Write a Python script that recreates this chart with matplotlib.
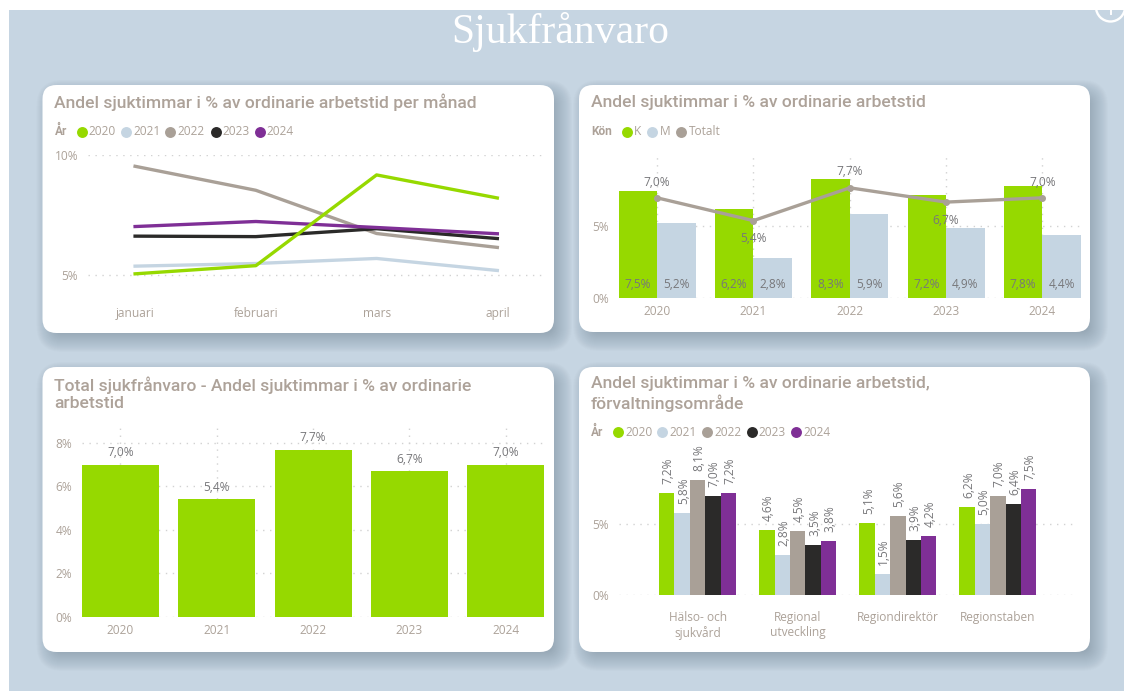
import matplotlib
matplotlib.use('Agg')
import matplotlib.pyplot as plt
from matplotlib.patches import FancyBboxPatch, Rectangle, Circle

W, H = 1124, 691

# data
months = ['januari', 'februari', 'mars', 'april']
years = ['2020', '2021', '2022', '2023', '2024']
month_2020 = [5.05, 5.39, 9.17, 8.21]
month_2021 = [5.37, 5.48, 5.69, 5.19]
month_2022 = [9.53, 8.53, 6.73, 6.15]
month_2023 = [6.62, 6.60, 6.93, 6.52]
month_2024 = [7.02, 7.23, 6.98, 6.72]

kon_k = [7.5, 6.2, 8.3, 7.2, 7.8]
kon_m = [5.2, 2.8, 5.9, 4.9, 4.4]
totalt = [7.0, 5.4, 7.7, 6.7, 7.0]

omraden = ['Hälso- och\nsjukvård', 'Regional\nutveckling', 'Regiondirektör', 'Regionstaben']
omr_2020 = [7.2, 4.6, 5.1, 6.2]
omr_2021 = [5.8, 2.8, 1.5, 5.0]
omr_2022 = [8.1, 4.5, 5.6, 7.0]
omr_2023 = [7.0, 3.5, 3.9, 6.4]
omr_2024 = [7.2, 3.8, 4.2, 7.5]

GREEN = '#96D900'
LIGHT = '#C5D5E2'
GRAY = '#A9A097'
BLACK = '#2B2A29'
PURPLE = '#7F2F96'
year_colors = [GREEN, LIGHT, GRAY, BLACK, PURPLE]
BG = '#C6D5E2'
TITLE_C = '#ADA299'
TICK_C = '#ACA299'
LABEL_C = '#77777A'
GRID_C = '#D2D2D2'
SANS = 'Open Sans'
HEAD = 'Roboto'


def pct(v):
    return ('%.1f%%' % v).replace('.', ',')


fig = plt.figure(figsize=(W / 100, H / 100), dpi=100, facecolor='white')
bg = fig.add_axes([0, 0, 1, 1])
bg.set_xlim(0, W)
bg.set_ylim(H, 0)
bg.axis('off')
bg.add_patch(Rectangle((9, 10), W - 9, H - 10, color=BG, lw=0))

# the ring in the upper corner, cut off by the panel edge
clip = Rectangle((9, 10), W - 9, H - 10, transform=bg.transData)
ring = Circle((1110.5, 7), 14.5, fc='none', ec='white', lw=1.7)
bg.add_patch(ring)
ring.set_clip_path(clip)
bg.plot([1110.5, 1110.5], [10, 13.5], color='white', lw=1.4)


def card(x0, y0, x1, y1):
    r = 14
    for i in range(20):
        grow = 13 - i
        rr = max(r + grow - 1, 1)
        bg.add_patch(FancyBboxPatch((x0 + r + 6, y0 + r + 7), x1 - x0 - 2 * r, y1 - y0 - 2 * r,
                                    boxstyle='round,pad=%f,rounding_size=%f' % (rr, rr),
                                    fc='#4F6374', ec='none', alpha=0.021))
    bg.add_patch(FancyBboxPatch((x0 + r, y0 + r), x1 - x0 - 2 * r, y1 - y0 - 2 * r,
                                boxstyle='round,pad=%f,rounding_size=%f' % (r, r),
                                fc='white', ec='none'))


def plot_axes(x0, y0, x1, y1):
    ax = fig.add_axes([x0 / W, 1 - y1 / H, (x1 - x0) / W, (y1 - y0) / H])
    ax.patch.set_alpha(0)
    for s in ax.spines.values():
        s.set_visible(False)
    ax.tick_params(length=0)
    ax.set_axisbelow(True)
    return ax


def style_ticks(ax):
    for lab in ax.get_xticklabels() + ax.get_yticklabels():
        lab.set_family(SANS)
        lab.set_color(TICK_C)
        lab.set_fontsize(8.6)


def head(x, y, s):
    bg.text(x, y, s, fontsize=12.6, color=TITLE_C, family=HEAD, weight='medium',
            va='center', ha='left', linespacing=1.2)


def legend(y, name, xname, dots, texts, labels, colors):
    bg.text(xname, y, name, fontsize=8.6, color=TITLE_C, family=HEAD, weight='bold', va='center')
    for dx, tx, lab, c in zip(dots, texts, labels, colors):
        bg.scatter([dx], [y], s=62, color=c, lw=0, zorder=3)
        bg.text(tx, y, lab, fontsize=8.6, color=TICK_C, family=SANS, va='center')


card(42.5, 85, 554, 333)
card(579, 85, 1090, 332)
card(42.5, 367, 554, 652)
card(579, 367, 1090, 652)

bg.text(560, 32, 'Sjukfrånvaro', fontsize=30, color='white', family='Liberation Serif',
        ha='center', va='center')

grid_ls = (0, (1, 4))

# per month lines
head(54.5, 102, 'Andel sjuktimmar i % av ordinarie arbetstid per månad')
legend(131.7, 'År', 54.5, [81.8, 125.5, 170, 215.6, 260], [88.4, 133, 177.5, 222, 266.5], years, year_colors)
ax1 = plot_axes(88, 155, 542, 300)
x = list(range(len(months)))
for vals, c in zip([month_2022, month_2021, month_2023, month_2024, month_2020], [GRAY, LIGHT, BLACK, PURPLE, GREEN]):
    ax1.plot(x, vals, color=c, lw=2.4, solid_joinstyle='round')
ax1.set_xlim(-0.39, 3.37)
ax1.set_ylim(3.96, 10)
ax1.set_yticks([5, 10])
ax1.set_yticklabels(['5%', '10%'])
ax1.set_xticks(x)
ax1.set_xticklabels(months)
ax1.tick_params(axis='x', pad=5)
ax1.tick_params(axis='y', pad=7)
ax1.grid(axis='y', color=GRID_C, lw=1, ls=grid_ls)
style_ticks(ax1)

# K / M bars with total line
head(591, 102, 'Andel sjuktimmar i % av ordinarie arbetstid')
legend(131.7, 'Kön', 591, [627.4, 652.3, 680.9], [633.8, 659.5, 688.7], ['K', 'M', 'Totalt'], [GREEN, LIGHT, GRAY])
ax2 = plot_axes(618.5, 155, 1081, 297.7)
x = list(range(len(years)))
bars_k = ax2.bar([i - 0.2 for i in x], kon_k, 0.4, color=GREEN)
bars_m = ax2.bar([i + 0.2 for i in x], kon_m, 0.4, color=LIGHT)
for bars, vals in ((bars_k, kon_k), (bars_m, kon_m)):
    for b, v in zip(bars, vals):
        ax2.annotate(pct(v), (b.get_x() + b.get_width() / 2, 0), xytext=(0, 9.7), textcoords='offset points',
                     ha='center', va='center', fontsize=8.6, color=LABEL_C, family=SANS)
ax2.plot(x, totalt, color=GRAY, lw=2.4, marker='o', ms=4)
offs = [11, -13, 11.5, -13.5, 11]
for i, v in enumerate(totalt):
    ax2.annotate(pct(v), (i, v), xytext=(0, offs[i]), textcoords='offset points',
                 ha='center', va='center', fontsize=8.6, color=LABEL_C, family=SANS)
ax2.set_xlim(-0.4, 4.4)
ax2.set_ylim(0, 10)
ax2.set_yticks([0, 5])
ax2.set_yticklabels(['0%', '5%'])
ax2.set_xticks(x)
ax2.set_xticklabels(years)
ax2.tick_params(axis='x', pad=5.4)
ax2.tick_params(axis='y', pad=7)
ax2.grid(True, color=GRID_C, lw=1, ls=grid_ls)
style_ticks(ax2)

# total per year
head(54.5, 394, 'Total sjukfrånvaro - Andel sjuktimmar i % av ordinarie\narbetstid')
ax3 = plot_axes(81.8, 425, 544.4, 616.7)
bars = ax3.bar(x, totalt, 0.8, color=GREEN)
for b, v in zip(bars, totalt):
    ax3.annotate(pct(v), (b.get_x() + b.get_width() / 2, v), xytext=(0, 8.7), textcoords='offset points',
                 ha='center', va='center', fontsize=8.6, color=LABEL_C, family=SANS)
ax3.set_xlim(-0.4, 4.4)
ax3.set_ylim(0, 8.83)
ax3.set_yticks([0, 2, 4, 6, 8])
ax3.set_yticklabels(['0%', '2%', '4%', '6%', '8%'])
ax3.set_xticks(x)
ax3.set_xticklabels(years)
ax3.tick_params(axis='x', pad=5.4)
ax3.tick_params(axis='y', pad=7)
ax3.grid(True, color=GRID_C, lw=1, ls=grid_ls)
style_ticks(ax3)

# per area
head(591, 394, 'Andel sjuktimmar i % av ordinarie arbetstid,\nförvaltningsområde')
legend(432.3, 'År', 591, [618, 662.3, 707, 751.8, 796.4], [625, 669.5, 714, 758.6, 803], years, year_colors)
ax4 = plot_axes(618.5, 453, 1077, 595.3)
x = list(range(len(omraden)))
w = 0.154
for j, (vals, c) in enumerate(zip([omr_2020, omr_2021, omr_2022, omr_2023, omr_2024], year_colors)):
    pos = [i + (j - 2) * w for i in x]
    ax4.bar(pos, vals, w, color=c)
    for p, v in zip(pos, vals):
        ax4.annotate(pct(v), (p, v), xytext=(1, 6.5), textcoords='offset points', rotation=90,
                     ha='center', va='bottom', fontsize=8.6, color=LABEL_C, family=SANS, annotation_clip=False)
ax4.set_xlim(-0.79, 3.79)
ax4.set_ylim(0, 10)
ax4.set_yticks([0, 5])
ax4.set_yticklabels(['0%', '5%'])
ax4.set_xticks(x)
ax4.set_xticklabels(omraden, linespacing=1.2)
ax4.tick_params(axis='x', pad=11.5)
ax4.tick_params(axis='y', pad=7)
ax4.grid(axis='y', color=GRID_C, lw=1, ls=grid_ls)
style_ticks(ax4)

fig.savefig('out.png', dpi=100)
